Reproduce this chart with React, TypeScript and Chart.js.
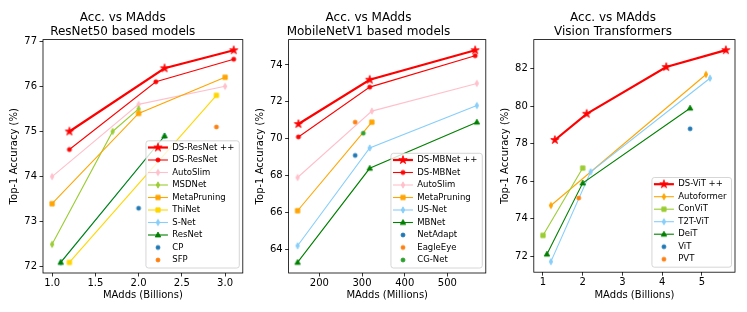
import React, { useEffect, useRef } from "react";
import { Chart, registerables } from "chart.js";
Chart.register(...registerables);

type Pt = [number, number];

const FONT = "'DejaVu Sans', sans-serif";

// ---------- Panel 1: ResNet50 ----------
const resnetTitle = ["Acc. vs MAdds", "ResNet50 based models"];
const resnetXLabel = "MAdds (Billions)";
const resnetXTicks = [1.0, 1.5, 2.0, 2.5, 3.0];
const resnetYTicks = [72, 73, 74, 75, 76, 77];
const dsResNetPP: Pt[] = [[1.2, 75.0], [2.3, 76.4], [3.1, 76.8]];
const dsResNet: Pt[] = [[1.2, 74.6], [2.2, 76.1], [3.1, 76.6]];
const autoSlimR: Pt[] = [[1.0, 74.0], [2.0, 75.6], [3.0, 76.0]];
const msdNet: Pt[] = [[1.0, 72.5], [1.7, 75.0], [2.0, 75.5]];
const metaPruningR: Pt[] = [[1.0, 73.4], [2.0, 75.4], [3.0, 76.2]];
const thiNet: Pt[] = [[1.2, 72.1], [2.9, 75.8]];
const sNet: Pt[] = [[1.1, 72.1], [2.3, 74.9]];
const resNet: Pt[] = [[1.1, 72.1], [2.3, 74.9]];
const cp: Pt[] = [[2.0, 73.3]];
const sfp: Pt[] = [[2.9, 75.1]];

// ---------- Panel 2: MobileNetV1 ----------
const mbTitle = ["Acc. vs MAdds", "MobileNetV1 based models"];
const mbXLabel = "MAdds (Millions)";
const mbXTicks = [200, 300, 400, 500];
const mbYTicks = [64, 66, 68, 70, 72, 74];
const dsMBNetPP: Pt[] = [[151, 70.8], [318, 73.2], [565, 74.8]];
const dsMBNet: Pt[] = [[151, 70.1], [318, 72.8], [565, 74.5]];
const autoSlimM: Pt[] = [[149, 67.9], [323, 71.5], [569, 73.0]];
const metaPruningM: Pt[] = [[149, 66.1], [323, 70.9]];
const usNet: Pt[] = [[149, 64.2], [318, 69.5], [569, 71.8]];
const mbNet: Pt[] = [[149, 63.3], [318, 68.4], [569, 70.9]];
const netAdapt: Pt[] = [[284, 69.1]];
const eagleEye: Pt[] = [[284, 70.9]];
const cgNet: Pt[] = [[303, 70.3]];

// ---------- Panel 3: Vision Transformers ----------
const vitTitle = ["Acc. vs MAdds", "Vision Transformers"];
const vitXLabel = "MAdds (Billions)";
const vitXTicks = [1, 2, 3, 4, 5];
const vitYTicks = [72, 74, 76, 78, 80, 82];
const dsViTPP: Pt[] = [[1.3, 78.2], [2.1, 79.6], [4.1, 82.1], [5.6, 83.0]];
const autoformer: Pt[] = [[1.2, 74.7], [5.1, 81.7]];
const conViT: Pt[] = [[1.0, 73.1], [2.0, 76.7]];
const t2tViT: Pt[] = [[1.2, 71.7], [2.2, 76.5], [5.2, 81.5]];
const deiT: Pt[] = [[1.1, 72.1], [2.0, 75.9], [4.7, 79.9]];
const viT: Pt[] = [[4.7, 78.8]];
const pvt: Pt[] = [[1.9, 75.1]];

const Y_LABEL = "Top-1 Accuracy (%)";

type Marker = "star" | "dot" | "thin" | "square" | "tri" | "scatter";
type Series = { label: string; data: Pt[]; color: string; marker: Marker; line: boolean; width: number };

const S = (label: string, data: Pt[], color: string, marker: Marker, line = true, width = 1.1): Series => ({
  label, data, color, marker, line, width,
});

const resnetSeries: Series[] = [
  S("DS-ResNet ++", dsResNetPP, "#ff0000", "star", true, 2.2),
  S("DS-ResNet", dsResNet, "#ff0000", "dot"),
  S("AutoSlim", autoSlimR, "#ffc0cb", "thin"),
  S("MSDNet", msdNet, "#9acd32", "thin"),
  S("MetaPruning", metaPruningR, "#ffa500", "square"),
  S("ThiNet", thiNet, "#ffd700", "square"),
  S("S-Net", sNet, "#87cefa", "thin"),
  S("ResNet", resNet, "#008000", "tri"),
  S("CP", cp, "#1f77b4", "scatter", false),
  S("SFP", sfp, "#ff7f0e", "scatter", false),
];

const mbSeries: Series[] = [
  S("DS-MBNet ++", dsMBNetPP, "#ff0000", "star", true, 2.2),
  S("DS-MBNet", dsMBNet, "#ff0000", "dot"),
  S("AutoSlim", autoSlimM, "#ffc0cb", "thin"),
  S("MetaPruning", metaPruningM, "#ffa500", "square"),
  S("US-Net", usNet, "#87cefa", "thin"),
  S("MBNet", mbNet, "#008000", "tri"),
  S("NetAdapt", netAdapt, "#1f77b4", "scatter", false),
  S("EagleEye", eagleEye, "#ff7f0e", "scatter", false),
  S("CG-Net", cgNet, "#2ca02c", "scatter", false),
];

const vitSeries: Series[] = [
  S("DS-ViT ++", dsViTPP, "#ff0000", "star", true, 2.2),
  S("Autoformer", autoformer, "#ffa500", "thin"),
  S("ConViT", conViT, "#9acd32", "square"),
  S("T2T-ViT", t2tViT, "#87cefa", "thin"),
  S("DeiT", deiT, "#008000", "tri"),
  S("ViT", viT, "#1f77b4", "scatter", false),
  S("PVT", pvt, "#ff7f0e", "scatter", false),
];

function makeMarker(kind: Marker, color: string): HTMLCanvasElement {
  const s = 14;
  const c = document.createElement("canvas");
  c.width = s;
  c.height = s;
  const ctx = c.getContext("2d")!;
  const m = s / 2;
  ctx.fillStyle = color;
  ctx.strokeStyle = color;
  ctx.lineWidth = 0.8;
  ctx.beginPath();
  switch (kind) {
    case "star": {
      const R = 4.4;
      const r = R * 0.382;
      for (let i = 0; i < 10; i++) {
        const a = -Math.PI / 2 + (i * Math.PI) / 5;
        const rr = i % 2 === 0 ? R : r;
        const x = m + rr * Math.cos(a);
        const y = m + rr * Math.sin(a);
        if (i) ctx.lineTo(x, y);
        else ctx.moveTo(x, y);
      }
      ctx.closePath();
      break;
    }
    case "dot":
      ctx.arc(m, m, 2.1, 0, Math.PI * 2);
      break;
    case "thin":
      ctx.moveTo(m, m - 3.2);
      ctx.lineTo(m + 1.8, m);
      ctx.lineTo(m, m + 3.2);
      ctx.lineTo(m - 1.8, m);
      ctx.closePath();
      break;
    case "square":
      ctx.rect(m - 2.2, m - 2.2, 4.4, 4.4);
      break;
    case "tri":
      ctx.moveTo(m, m - 3);
      ctx.lineTo(m + 2.8, m + 2);
      ctx.lineTo(m - 2.8, m + 2);
      ctx.closePath();
      break;
    case "scatter":
      ctx.arc(m, m, 2.0, 0, Math.PI * 2);
      break;
  }
  ctx.fill();
  ctx.stroke();
  return c;
}

type PanelProps = {
  left: number;
  width: number;
  plotLeft: number;
  plotRight: number;
  plotBottom: number;
  title: string[];
  xLabel: string;
  xTicks: number[];
  yTicks: number[];
  xDecimals: number;
  series: Series[];
};

function Panel(p: PanelProps) {
  const ref = useRef<HTMLCanvasElement>(null);
  useEffect(() => {
    if (!ref.current) return;
    const H = 312;
    const xs = p.series.flatMap((s) => s.data.map((d) => d[0]));
    const ys = p.series.flatMap((s) => s.data.map((d) => d[1]));
    const xMin = Math.min(...xs), xMax = Math.max(...xs);
    const yMin = Math.min(...ys), yMax = Math.max(...ys);
    const dx = (xMax - xMin) * 0.05, dy = (yMax - yMin) * 0.05;
    const yAxisW = p.plotLeft - p.left;
    const padRight = p.width - (p.plotRight - p.left);
    const markers = p.series.map((s) => makeMarker(s.marker, s.color));

    const frameLegend = {
      id: "frameLegend",
      afterDatasetsDraw(chart: any) {
        const { ctx, chartArea: a } = chart;
        ctx.save();
        ctx.strokeStyle = "#000";
        ctx.lineWidth = 0.8;
        ctx.strokeRect(a.left, a.top, a.right - a.left, a.bottom - a.top);

        const fs = 8.5;
        ctx.font = `${fs}px ${FONT}`;
        const maxW = Math.max(...p.series.map((s) => ctx.measureText(s.label).width));
        const rowH = 12.5;
        const n = p.series.length;
        const boxW = 26.3 + maxW + 5;
        const boxH = (n - 1) * rowH + 14.7;
        const boxR = a.right - 3.5;
        const boxB = a.bottom - 5;
        const boxL = boxR - boxW;
        const boxT = boxB - boxH;
        ctx.beginPath();
        (ctx as any).roundRect(boxL, boxT, boxW, boxH, 2.5);
        ctx.fillStyle = "rgba(255,255,255,0.8)";
        ctx.fill();
        ctx.strokeStyle = "#cccccc";
        ctx.lineWidth = 0.8;
        ctx.stroke();
        p.series.forEach((s, i) => {
          const cy = boxT + 6.7 + i * rowH;
          const x1 = boxL + 2;
          const x2 = x1 + 20;
          if (s.line) {
            ctx.beginPath();
            ctx.strokeStyle = s.color;
            ctx.lineWidth = s.width;
            ctx.moveTo(x1, cy);
            ctx.lineTo(x2, cy);
            ctx.stroke();
          }
          const mk = markers[i];
          ctx.drawImage(mk, (x1 + x2) / 2 - mk.width / 2, cy - mk.height / 2);
          ctx.fillStyle = "#000";
          ctx.textBaseline = "middle";
          ctx.textAlign = "left";
          ctx.fillText(s.label, boxL + 26.3, cy);
        });
        ctx.restore();
      },
    };

    const tickFont = { family: FONT, size: 10 };
    const chart = new Chart(ref.current, {
      type: "scatter",
      data: {
        datasets: p.series.map((s, i) => ({
          label: s.label,
          data: s.data.map(([x, y]) => ({ x, y })),
          showLine: s.line,
          borderColor: s.color,
          backgroundColor: s.color,
          borderWidth: s.width,
          pointStyle: markers[i] as any,
          pointRadius: 3,
          pointHoverRadius: 3,
          tension: 0,
          order: -i,
        })),
      },
      options: {
        responsive: false,
        animation: false,
        events: [],
        layout: { padding: { left: 0, right: padRight, top: 0, bottom: 0 } },
        plugins: {
          legend: { display: false },
          tooltip: { enabled: false },
          title: {
            display: true,
            text: p.title,
            color: "#000",
            font: { family: FONT, size: 12, lineHeight: 1.225, weight: "normal" as any },
            padding: { top: 10.2, bottom: 0 },
          },
        },
        scales: {
          x: {
            type: "linear",
            min: xMin - dx,
            max: xMax + dx,
            afterBuildTicks: (s: any) => {
              s.ticks = p.xTicks.map((v) => ({ value: v }));
            },
            afterFit: (s: any) => {
              s.height = H - p.plotBottom;
            },
            ticks: {
              color: "#000",
              font: tickFont,
              padding: 1,
              autoSkip: false,
              maxRotation: 0,
              callback: (v: any) => Number(v).toFixed(p.xDecimals),
            },
            grid: { display: true, drawOnChartArea: false, drawTicks: true, tickLength: 3.5, color: "#000", lineWidth: 0.8 },
            border: { display: false },
            title: { display: true, text: p.xLabel, color: "#000", font: tickFont, padding: { top: 0, bottom: 11 } },
          },
          y: {
            type: "linear",
            min: yMin - dy,
            max: yMax + dy,
            afterBuildTicks: (s: any) => {
              s.ticks = p.yTicks.map((v) => ({ value: v }));
            },
            afterFit: (s: any) => {
              s.width = yAxisW;
            },
            ticks: {
              color: "#000",
              font: tickFont,
              padding: 2.5,
              autoSkip: false,
              callback: (v: any) => String(v),
            },
            grid: { display: true, drawOnChartArea: false, drawTicks: true, tickLength: 3.5, color: "#000", lineWidth: 0.8 },
            border: { display: false },
            title: { display: true, text: Y_LABEL, color: "#000", font: tickFont, padding: { top: yAxisW - 28.5 - 6, bottom: 0 } },
          },
        },
      },
      plugins: [frameLegend],
    } as any);
    return () => chart.destroy();
  }, []);
  return (
    <canvas
      ref={ref}
      width={p.width}
      height={312}
      style={{ position: "absolute", left: p.left, top: 0, width: p.width, height: 312 }}
    />
  );
}

export default function App() {
  return (
    <div style={{ position: "fixed", left: 0, top: 0, width: 747, height: 312, background: "#fff", overflow: "hidden" }}>
      <Panel left={0} width={248} plotLeft={43} plotRight={245.5} plotBottom={273}
        title={resnetTitle} xLabel={resnetXLabel} xTicks={resnetXTicks} yTicks={resnetYTicks} xDecimals={1} series={resnetSeries} />
      <Panel left={248} width={243} plotLeft={288.6} plotRight={489} plotBottom={273}
        title={mbTitle} xLabel={mbXLabel} xTicks={mbXTicks} yTicks={mbYTicks} xDecimals={0} series={mbSeries} />
      <Panel left={491} width={256} plotLeft={533.8} plotRight={735} plotBottom={272.2}
        title={vitTitle} xLabel={vitXLabel} xTicks={vitXTicks} yTicks={vitYTicks} xDecimals={0} series={vitSeries} />
    </div>
  );
}
